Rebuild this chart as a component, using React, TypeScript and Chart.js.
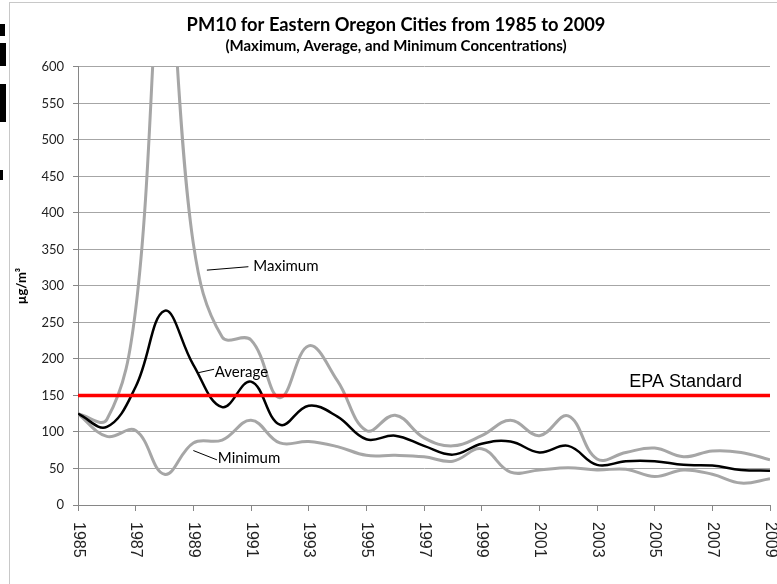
import React, { useEffect, useRef } from "react";
import { Chart, registerables } from "chart.js";

Chart.register(...registerables);

// ---------- data ----------
const years = [
  1985, 1986, 1987, 1988, 1989, 1990, 1991, 1992, 1993, 1994, 1995, 1996, 1997,
  1998, 1999, 2000, 2001, 2002, 2003, 2004, 2005, 2006, 2007, 2008, 2009,
];
const maximum = [
  125, 117, 268, 760, 358, 230, 226, 147, 218, 170, 102, 123, 92, 81, 95, 116,
  95, 122, 63, 72, 78, 66, 74, 72, 62,
];
const average = [
  125, 107, 162, 266, 192, 134, 169, 110, 136, 121, 90, 95, 81, 69, 84, 87, 72,
  81, 55, 60, 60, 55, 54, 48, 47,
];
const minimum = [
  125, 94, 102, 42, 85, 89, 116, 85, 87, 80, 68, 68, 66, 60, 77, 45, 48, 51, 48,
  49, 39, 48, 42, 30, 36,
];
const epaStandard = 150;
const epaYears = [1985, 2009];

const yMin = 0;
const yMax = 600;
const yStep = 50;
const xStep = 2;

const titleText = "PM10 for Eastern Oregon Cities from 1985 to 2009";
const subtitleText = "(Maximum, Average, and Minimum Concentrations)";
const yTitleText = "µg/m³";
const seriesNames = ["Maximum", "Average", "Minimum"];
const epaLabel = "EPA Standard";

// ---------- plugin: callouts, EPA label, rotated year labels ----------
const customPlugin = {
  id: "customText",
  afterDatasetsDraw(chart: any) {
    const { ctx } = chart;
    const xs = chart.scales.x;
    const ys = chart.scales.y;
    const callouts = [
      { text: seriesNames[0], from: [1989.47, 321.7], to: [1990.91, 326.4], at: [1991.08, 326.8] },
      { text: seriesNames[1], from: [1989.17, 181.2], to: [1989.72, 185.9], at: [1989.74, 182.2] },
      { text: seriesNames[2], from: [1989.0, 74.6], to: [1989.82, 61.8], at: [1989.85, 64.5] },
    ];
    ctx.save();
    ctx.strokeStyle = "#000";
    ctx.lineWidth = 1;
    ctx.fillStyle = "#000";
    ctx.font = "15px Lato";
    ctx.textAlign = "left";
    ctx.textBaseline = "middle";
    for (const c of callouts) {
      ctx.beginPath();
      ctx.moveTo(xs.getPixelForValue(c.from[0]), ys.getPixelForValue(c.from[1]));
      ctx.lineTo(xs.getPixelForValue(c.to[0]), ys.getPixelForValue(c.to[1]));
      ctx.stroke();
      ctx.fillText(c.text, xs.getPixelForValue(c.at[0]), ys.getPixelForValue(c.at[1]));
    }
    ctx.font = "18px 'Liberation Sans'";
    ctx.textAlign = "right";
    ctx.fillText(epaLabel, xs.getPixelForValue(2008.03), ys.getPixelForValue(168));
    ctx.restore();
  },
  afterDraw(chart: any) {
    const { ctx } = chart;
    const xs = chart.scales.x;
    ctx.save();
    ctx.fillStyle = "#222";
    ctx.font = "16px 'Liberation Sans'";
    ctx.textAlign = "left";
    ctx.textBaseline = "middle";
    for (const t of xs.ticks) {
      const px = xs.getPixelForValue(t.value);
      ctx.save();
      ctx.translate(px, xs.top + 17);
      ctx.rotate(Math.PI / 2);
      ctx.fillText(String(t.value), 0, 0);
      ctx.restore();
    }
    ctx.restore();
  },
};

export default function App() {
  const ref = useRef<HTMLCanvasElement | null>(null);

  useEffect(() => {
    if (!ref.current) return;
    const pts = (vals: number[]) => years.map((yr, i) => ({ x: yr, y: vals[i] }));
    const chart = new Chart(ref.current, {
      type: "line",
      data: {
        datasets: [
          {
            label: epaLabel,
            data: epaYears.map((yr) => ({ x: yr, y: epaStandard })),
            borderColor: "#ff0000",
            borderWidth: 3.5,
            pointRadius: 0,
            tension: 0,
            order: 0,
          },
          {
            label: seriesNames[1],
            data: pts(average),
            borderColor: "#000000",
            borderWidth: 2.5,
            pointRadius: 0,
            tension: 0.4,
            order: 1,
          },
          {
            label: seriesNames[0],
            data: pts(maximum),
            borderColor: "#a6a6a6",
            borderWidth: 3,
            pointRadius: 0,
            tension: 0.4,
            order: 2,
          },
          {
            label: seriesNames[2],
            data: pts(minimum),
            borderColor: "#a6a6a6",
            borderWidth: 3,
            pointRadius: 0,
            tension: 0.4,
            order: 3,
          },
        ],
      },
      options: {
        responsive: false,
        animation: false,
        events: [],
        layout: { padding: { left: 22, right: 7, top: 10, bottom: 0 } },
        plugins: {
          legend: { display: false },
          tooltip: { enabled: false },
          title: {
            display: true,
            text: titleText,
            color: "#000",
            font: { family: "Lato", size: 18.3, weight: "bold", lineHeight: 1.2 },
            padding: { top: 4, bottom: 0 },
          },
          subtitle: {
            display: true,
            text: subtitleText,
            color: "#000",
            font: { family: "Lato", size: 15, weight: "bold", lineHeight: 1.2 },
            padding: { top: 1, bottom: 12 },
          },
        },
        scales: {
          x: {
            type: "linear",
            min: years[0],
            max: years[years.length - 1],
            ticks: {
              stepSize: xStep,
              autoSkip: false,
              maxRotation: 90,
              minRotation: 90,
              color: "rgba(0,0,0,0)",
              padding: 11,
              font: { family: "Liberation Sans", size: 16 },
              callback: (v: any) => String(v),
            },
            grid: {
              drawOnChartArea: false,
              drawTicks: true,
              tickLength: 6,
              color: "#868686",
            },
            border: { color: "#868686", width: 1 },
            afterFit: (s: any) => {
              s.height = 79;
              s.paddingLeft = 0;
              s.paddingRight = 0;
            },
          },
          y: {
            min: yMin,
            max: yMax,
            ticks: {
              stepSize: yStep,
              color: "#222",
              padding: 9,
              font: { family: "Lato", size: 13 },
            },
            grid: {
              color: "#a6a6a6",
              lineWidth: 1,
              drawTicks: true,
              tickLength: 5,
              tickColor: "#868686",
            },
            border: { color: "#868686", width: 1 },
            title: {
              display: true,
              text: yTitleText,
              color: "#000",
              font: { family: "Lato", size: 13, weight: "bold" },
              padding: { top: -8, bottom: 4 },
            },
            afterFit: (s: any) => {
              s.width = 56;
            },
          },
        },
      },
      plugins: [customPlugin],
    });
    return () => chart.destroy();
  }, []);

  const blk = (top: number, h: number, w: number) => (
    <div style={{ position: "absolute", left: 0, top, width: w, height: h, background: "#000" }} />
  );

  return (
    <div
      style={{
        position: "absolute",
        left: 0,
        top: 0,
        width: 777,
        height: 584,
        overflow: "hidden",
        background: "#fff",
      }}
    >
      {blk(24, 12, 5)}
      {blk(43, 23, 6)}
      {blk(84, 38, 6)}
      {blk(170, 10, 3)}
      <div
        style={{
          position: "absolute",
          left: 9,
          top: 2,
          width: 800,
          height: 600,
          borderLeft: "1px solid #c8c8c8",
          borderTop: "1px solid #c8c8c8",
        }}
      />
      <canvas ref={ref} width={777} height={584} style={{ position: "absolute", left: 0, top: 0 }} />
    </div>
  );
}
